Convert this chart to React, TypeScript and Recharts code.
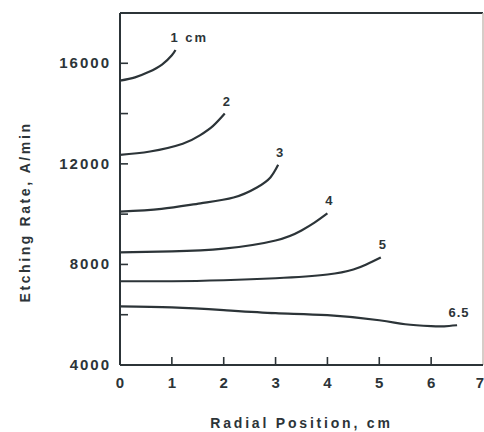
import React from "react";
import { LineChart, Line, XAxis, YAxis } from "recharts";

// Etching rate vs radial position for different electrode spacings
const spacingLabels = ["1 cm", "2", "3", "4", "5", "6.5"];

const pos1 = [0, 0.29, 0.55, 0.81, 1.0, 1.07];
const rate1 = [15310, 15440, 15650, 15950, 16320, 16530];

const pos2 = [0, 0.58, 1.21, 1.54, 1.79, 2.02];
const rate2 = [12360, 12490, 12800, 13130, 13500, 14000];

const pos3 = [0, 0.8, 1.55, 2.19, 2.64, 2.9, 3.05];
const rate3 = [10100, 10210, 10430, 10660, 11060, 11460, 11960];

const pos4 = [0, 1, 2, 3, 3.5, 3.75, 4.0];
const rate4 = [8480, 8520, 8630, 8950, 9350, 9660, 10030];

const pos5 = [0, 1, 2, 3, 4, 4.5, 4.75, 5.03];
const rate5 = [7330, 7330, 7370, 7450, 7600, 7800, 8000, 8280];

const pos65 = [0, 1, 2, 3, 4, 5, 5.5, 6, 6.25, 6.5];
const rate65 = [6330, 6290, 6180, 6060, 5980, 5780, 5620, 5545, 5540, 5580];

const xTicks = [0, 1, 2, 3, 4, 5, 6, 7];
const yTicks = [4000, 6000, 8000, 10000, 12000, 14000, 16000, 18000];
const yLabeled = [4000, 8000, 12000, 16000];

// plot frame: top edge and right edge
const frameTop = [
  { x: 0, y: 18000 },
  { x: 7, y: 18000 },
];
const frameRight = [
  { x: 7, y: 18000 },
  { x: 7, y: 4000 },
];

const INK = "#2c3438";
const FAINT = "#c8bcb6";
const FONT = "'Liberation Sans', Arial, sans-serif";

const zip = (xs: number[], ys: number[]) => xs.map((x, i) => ({ x, y: ys[i] }));

const series = [
  zip(pos1, rate1),
  zip(pos2, rate2),
  zip(pos3, rate3),
  zip(pos4, rate4),
  zip(pos5, rate5),
  zip(pos65, rate65),
];

const YTick = (props: any) => {
  const { x, y, payload } = props;
  const v = payload.value;
  const showLine = v !== 4000 && v !== 18000;
  return (
    <g>
      {showLine && <line x1={x} x2={x + 8} y1={y} y2={y} stroke={INK} strokeWidth={1.6} />}
      {yLabeled.includes(v) && (
        <text
          x={x - 9}
          y={y + 5}
          textAnchor="end"
          fontSize={15}
          fontWeight="bold"
          letterSpacing={2}
          fill={INK}
          fontFamily={FONT}
        >
          {v}
        </text>
      )}
    </g>
  );
};

const XTick = (props: any) => {
  const { x, y, payload } = props;
  const v = payload.value;
  const showLine = v !== 0 && v !== 7;
  return (
    <g>
      {showLine && <line x1={x} x2={x} y1={y} y2={y - 8} stroke={INK} strokeWidth={1.6} />}
      <text x={x} y={y + 23} textAnchor="middle" fontSize={15} fontWeight="bold" fill={INK} fontFamily={FONT}>
        {v}
      </text>
    </g>
  );
};

const YTitle = (props: any) => {
  const vb = props.viewBox || {};
  const cx = vb.x + 25;
  const cy = vb.y + vb.height / 2 + 23;
  return (
    <text
      x={cx}
      y={cy}
      transform={`rotate(-90 ${cx} ${cy})`}
      textAnchor="middle"
      dominantBaseline="central"
      fontSize={14}
      fontWeight="bold"
      letterSpacing={2.6}
      fill={INK}
      fontFamily={FONT}
    >
      Etching Rate, A/min
    </text>
  );
};

const makeEndLabel = (idx: number) => (props: any) => {
  const { x, y, index } = props;
  if (index !== series[idx].length - 1) return <g />;
  const text = spacingLabels[idx];
  const first = idx === 0;
  return (
    <text
      x={first ? x - 5 : x + 2}
      y={y - 8}
      textAnchor={first ? "start" : "middle"}
      fontSize={13}
      fontWeight="bold"
      letterSpacing={first ? 2 : 1}
      fill={INK}
      fontFamily={FONT}
    >
      {text}
    </text>
  );
};

export default function App() {
  return (
    <div style={{ position: "absolute", left: 0, top: 0, width: 484, height: 432, background: "#fff" }}>
      <LineChart width={484} height={432} margin={{ top: 13, right: 1, bottom: 0, left: 0 }}>
        <XAxis
          type="number"
          dataKey="x"
          domain={[0, 7]}
          ticks={xTicks}
          height={67}
          tickSize={0}
          tickMargin={0}
          tick={<XTick />}
          axisLine={{ stroke: INK, strokeWidth: 2 }}
          label={{
            value: "Radial Position, cm",
            position: "insideBottom",
            offset: 4,
            fill: INK,
            fontSize: 14,
            fontWeight: "bold",
            letterSpacing: 2.8,
            fontFamily: FONT,
          }}
        />
        <YAxis
          type="number"
          dataKey="y"
          domain={[4000, 18000]}
          ticks={yTicks}
          width={120}
          tickSize={0}
          tickMargin={0}
          tick={<YTick />}
          axisLine={{ stroke: INK, strokeWidth: 2 }}
          label={<YTitle />}
        />
        <Line
          data={frameTop}
          dataKey="y"
          type="linear"
          stroke={INK}
          strokeWidth={2}
          dot={false}
          isAnimationActive={false}
        />
        <Line
          data={frameRight}
          dataKey="y"
          type="linear"
          stroke={FAINT}
          strokeWidth={1.5}
          dot={false}
          isAnimationActive={false}
        />
        {series.map((d, i) => (
          <Line
            key={i}
            data={d}
            dataKey="y"
            type="natural"
            stroke={INK}
            strokeWidth={2.2}
            dot={false}
            isAnimationActive={false}
            label={makeEndLabel(i)}
          />
        ))}
      </LineChart>
    </div>
  );
}
